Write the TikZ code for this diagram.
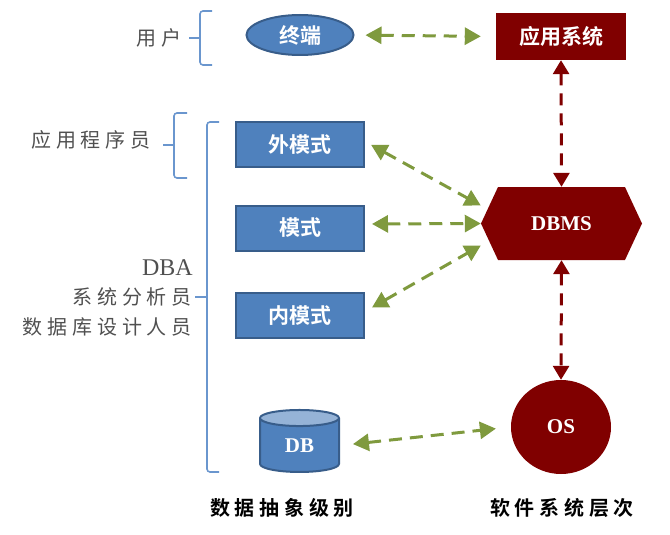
\documentclass[tikz,border=0pt]{standalone}
\usepackage{fontspec}
\usetikzlibrary{arrows.meta,shapes.geometric,shapes.symbols}
\setmainfont{Liberation Serif}
\newfontfamily\cjkreg[LetterSpace=24]{Noto Sans CJK SC}
\newfontfamily\cjkbold[BoldFont={Noto Sans CJK SC Bold},LetterSpace=24]{Noto Sans CJK SC Bold}
\newfontfamily\cjkbox{Noto Sans CJK SC Bold}
\definecolor{boxblue}{HTML}{4F81BD}
\definecolor{boxedge}{HTML}{385D8A}
\definecolor{topblue}{HTML}{95B3D7}
\definecolor{darkred}{HTML}{800000}
\definecolor{arrowgreen}{HTML}{7F9A3E}
\definecolor{bracketblue}{HTML}{6A96CE}
\definecolor{labelgray}{HTML}{505050}
\tikzset{
  x=1pt,y=-1pt,
  bluebox/.style={draw=boxedge,line width=2pt,fill=boxblue,text=white,minimum width=128pt,minimum height=45pt,inner sep=0pt,font=\fontsize{21}{24}\selectfont\cjkbox},
  redbox/.style={fill=darkred,text=white,minimum width=130pt,minimum height=47pt,inner sep=0pt,font=\fontsize{21}{24}\selectfont\cjkbox},
  latinbold/.style={font=\fontsize{21}{24}\selectfont\bfseries},
  greenarrow/.style={draw=arrowgreen,line width=3pt,dash pattern=on 13pt off 8pt,{Triangle[length=16pt,width=17pt]}-{Triangle[length=16pt,width=17pt]}},
  redarrow/.style={draw=darkred,line width=3pt,dash pattern=on 12pt off 8pt,{Triangle[length=14pt,width=16pt]}-{Triangle[length=14pt,width=16pt]}},
  bracket/.style={draw=bracketblue,line width=1.6pt,rounded corners=3pt},
  rolelabel/.style={text=labelgray,inner sep=0pt,font=\fontsize{20}{24}\selectfont\cjkreg},
  levellabel/.style={text=black,inner sep=0pt,font=\fontsize{20}{24}\selectfont\cjkbold},
}
\begin{document}
\begin{tikzpicture}
\useasboundingbox (0,0) rectangle (670,535);
% nodes
\node[ellipse,draw=boxedge,line width=2pt,fill=boxblue,text=white,minimum width=107pt,minimum height=40pt,inner sep=0pt,font=\fontsize{21}{24}\selectfont\cjkbox] (term) at (300,35) {终端};
\node[redbox] (app) at (561,36.5) {应用系统};
\node[bluebox] (wai) at (300,144.5) {外模式};
\node[bluebox] (mo) at (300,228) {模式};
\node[bluebox] (nei) at (300,315.5) {内模式};
\node[signal,signal to=east and west,signal pointer angle=130,fill=darkred,text=white,minimum width=161pt,minimum height=73pt,inner sep=0pt,latinbold] (dbms) at (561.5,223.5) {DBMS};
\node[ellipse,fill=darkred,text=white,minimum width=100pt,minimum height=94pt,inner sep=0pt,latinbold] (os) at (561,427) {OS};
\node[cylinder,shape border rotate=90,aspect=0.55,draw=boxedge,line width=2pt,cylinder uses custom fill,cylinder body fill=boxblue,cylinder end fill=topblue,text=white,minimum width=79pt,minimum height=62pt,inner sep=0pt,latinbold] (db) at (299.5,445.5) {DB};
% connectors
\draw[greenarrow,shorten <=11pt,shorten >=15pt] (term.east) -- (app.west);
\draw[redarrow] (app.south) -- (dbms.north);
\draw[greenarrow,shorten <=7pt] ([yshift=3pt]wai.east) -- ([yshift=18pt]dbms.west);
\draw[greenarrow,shorten <=7pt] ([yshift=4pt]mo.east) -- (dbms.west);
\draw[greenarrow,shorten <=8pt] ([yshift=4pt]nei.east) -- ([yshift=-22pt]dbms.west);
\draw[redarrow] (dbms.south) -- (os.north);
\draw[greenarrow,shorten <=13pt,shorten >=15pt] (db.east) -- (os.west);
% brackets
\coordinate (b1) at (200,38);
\draw[bracket] (212,11) -- (200,11) -- (200,65) -- (212,65);
\draw[bracket] (189,38) -- (b1);
\coordinate (b2) at (174,145);
\draw[bracket] (187,113) -- (174,113) -- (174,178) -- (187,178);
\draw[bracket] (163,145) -- (b2);
\coordinate (b3) at (207,297);
\draw[bracket] (219,122) -- (207,122) -- (207,472) -- (219,472);
\draw[bracket] (195,297) -- (b3);
% labels
\node[rolelabel] (yonghu) at (159,38) {用户};
\node[rolelabel] (chengxu) at (91,140) {应用程序员};
\node[anchor=east,inner sep=0pt,text=labelgray,font=\fontsize{24}{28}\selectfont] (dba) at (193,268) {DBA};
\node[rolelabel,anchor=east] (fenxi) at (192,297) {系统分析员};
\node[rolelabel,anchor=east] (sheji) at (192,327) {数据库设计人员};
\node[levellabel] (chouxiang) at (282,508) {数据抽象级别};
\node[levellabel] (cengci) at (562,508) {软件系统层次};
\end{tikzpicture}
\end{document}
